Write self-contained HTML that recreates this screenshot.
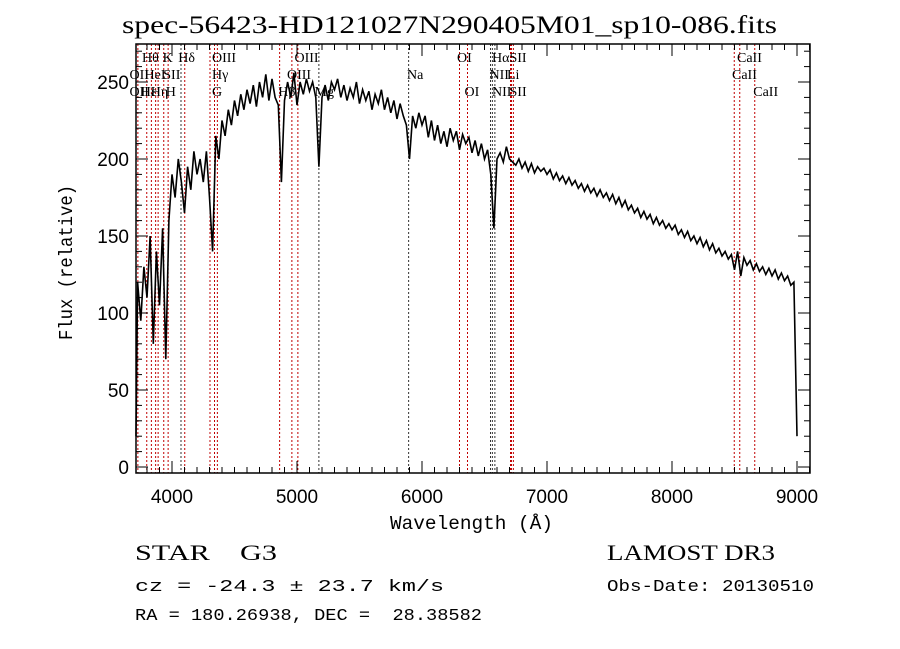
<!DOCTYPE html>
<html><head><meta charset="utf-8"><style>
html,body{margin:0;padding:0;background:#fff;}
svg{display:block;}
text{font-family:"Liberation Serif",serif;fill:#000;white-space:pre;}
.mono{font-family:"Liberation Mono",monospace;}
.sans{font-family:"Liberation Sans",sans-serif;}
</style></head><body>
<svg id="chart" width="900" height="649" viewBox="0 0 900 649" xmlns="http://www.w3.org/2000/svg">
<rect width="900" height="649" fill="#fff"/>
<text x="122" y="33" font-size="25" textLength="655" lengthAdjust="spacingAndGlyphs">spec-56423-HD121027N290405M01_sp10-086.fits</text>
<g id="lines"></g>
<g id="labels"></g>
<g id="series"></g>
<g id="axes"></g>
<text x="390" y="529" font-size="19" class="mono" textLength="163" lengthAdjust="spacingAndGlyphs">Wavelength (Å)</text>
<text transform="translate(72,340) rotate(-90)" font-size="19" class="mono" textLength="155" lengthAdjust="spacingAndGlyphs">Flux (relative)</text>
<text x="135" y="560" font-size="22" textLength="142" lengthAdjust="spacingAndGlyphs">STAR    G3</text>
<text x="135" y="591" font-size="17" class="mono" textLength="309" lengthAdjust="spacingAndGlyphs">cz = -24.3 ± 23.7 km/s</text>
<text x="135" y="620" font-size="17" class="mono" textLength="347" lengthAdjust="spacingAndGlyphs">RA = 180.26938, DEC =  28.38582</text>
<text x="607" y="560" font-size="22" textLength="168" lengthAdjust="spacingAndGlyphs">LAMOST DR3</text>
<text x="607" y="591" font-size="17" class="mono" textLength="207" lengthAdjust="spacingAndGlyphs">Obs-Date: 20130510</text>
</svg>
<script>
const wlStart = 3700;
const wlStep = 25;
const flux = [20,120,95,130,110,150,80,140,105,155,70,160,
190,175,200,185,165,195,180,205,190,200,185,205,175,140,215,200,
225,215,232,222,238,228,242,232,245,236,248,234,250,240,255,238,252,240,235,185,
238,250,240,256,235,250,242,252,244,250,240,195,240,248,238,250,245,252,240,248,
238,246,240,250,236,245,238,244,232,242,236,245,232,240,230,238,226,236,228,222,
200,228,220,230,222,228,214,225,212,222,210,218,208,220,212,218,206,216,210,214,
204,212,202,210,200,206,190,155,200,204,198,208,200,198,196,200,194,198,192,197,
191,195,192,194,
190,193,187,191,186,189,184,188,183,186,181,184,179,183,178,181,176,180,175,178,
173,177,171,175,169,173,167,170,165,168,162,166,161,164,158,162,157,160,155,158,
154,157,151,154,149,153,147,150,145,149,143,147,141,145,139,142,137,140,135,138,
128,140,124,136,131,134,128,132,127,130,125,129,124,128,122,126,121,124,118,120,20];
const xTicks = [4000,5000,6000,7000,8000,9000];
const yTicks = [0,50,100,150,200,250];
const lineWl = [3727,3798,3835,3869,3889,3934,3969,4072,4102,4304,4340,4363,4861,4959,5007,5175,5893,6300,6364,6548,6563,6583,6708,6716,6731,8498,8542,8662];
const lineKind = ["e","e","e","e","e","e","e","a","e","e","e","e","e","e","e","a","a","e","e","a","a","a","e","e","e","e","e","e"];
const labelText = ["Hθ","K","Hδ","OIII","OIII","OI","HαSII","CaII",
"OII","HeI","SII","Hγ","OIII","Na","NII","Li","CaII",
"OII","Hε","Hη","H","G","Hβ","Mg","OI","NII","SII","CaII"];
const labelWl = [3760,3925,4050,4320,4980,6280,6560,8520,
3660,3780,3930,4320,4920,5880,6540,6680,8480,
3660,3750,3830,3950,4320,4850,5140,6340,6560,6700,8650];
const labelRow = [0,0,0,0,0,0,0,0, 1,1,1,1,1,1,1,1,1, 2,2,2,2,2,2,2,2,2,2,2];

const L=136,R=810,T=44,B=473;
const X = w => 297 + (w-5000)*0.125;
const Y = v => 467 - v*1.54;
const NS="http://www.w3.org/2000/svg";
function mk(tag, parent){const e=document.createElementNS(NS,tag);parent.appendChild(e);return e;}

const gl=document.getElementById('lines');
lineWl.forEach((w,i)=>{
  const l=mk('line',gl);
  
  
  l.setAttribute('x1',X(w));l.setAttribute('x2',X(w));
  l.setAttribute('y1',T);l.setAttribute('y2',B);
  l.setAttribute('stroke',lineKind[i]==="a"?"#333":"#c00000");
  l.setAttribute('stroke-width','1');
  l.setAttribute('stroke-dasharray','2,2');
});
const glb=document.getElementById('labels');
labelText.forEach((t,i)=>{
  const e=mk('text',glb);
  
  
  e.setAttribute('x',X(labelWl[i]));
  e.setAttribute('y',62+labelRow[i]*17);
  e.setAttribute('font-size','14');
  e.textContent=t;
});

const gs=document.getElementById('series');
const pl=mk('polyline',gs);


pl.setAttribute('points',flux.map((v,i)=>{const w=wlStart+i*wlStep;return Math.max(L,X(w)).toFixed(1)+','+Math.min(B,Y(v)).toFixed(1);}).join(' '));
pl.setAttribute('fill','none');pl.setAttribute('stroke','#000');pl.setAttribute('stroke-width','1.6');

const ga=document.getElementById('axes');
const fr=mk('rect',ga);


fr.setAttribute('x',L);fr.setAttribute('y',T);fr.setAttribute('width',R-L);fr.setAttribute('height',B-T);
fr.setAttribute('fill','none');fr.setAttribute('stroke','#000');fr.setAttribute('stroke-width','1.5');
function tick(x1,y1,x2,y2){const t=mk('line',ga);t.setAttribute('x1',x1);t.setAttribute('y1',y1);t.setAttribute('x2',x2);t.setAttribute('y2',y2);t.setAttribute('stroke','#000');t.setAttribute('stroke-width','1');}
for(let w=3800;w<=9100;w+=100){const x=X(w);if(x<=L||x>=R)continue;const len=(w%1000===0)?12:6;tick(x,B,x,B-len);tick(x,T,x,T+len);}
for(let v=0;v<=270;v+=10){const y=Y(v);if(y<=T||y>=B)continue;const len=(v%50===0)?12:6;tick(L,y,L+len,y);tick(R,y,R-len,y);}
xTicks.forEach(w=>{const e=mk('text',ga);
  
  
  e.setAttribute('class','sans');
  e.setAttribute('x',X(w));e.setAttribute('y',B+30);e.setAttribute('font-size','19');e.setAttribute('text-anchor','middle');e.textContent=w;});
yTicks.forEach(v=>{const e=mk('text',ga);
  
  
  e.setAttribute('class','sans');
  e.setAttribute('x',L-7);e.setAttribute('y',Y(v)+7);e.setAttribute('font-size','19');e.setAttribute('text-anchor','end');e.textContent=v;});
</script>
</body></html>
